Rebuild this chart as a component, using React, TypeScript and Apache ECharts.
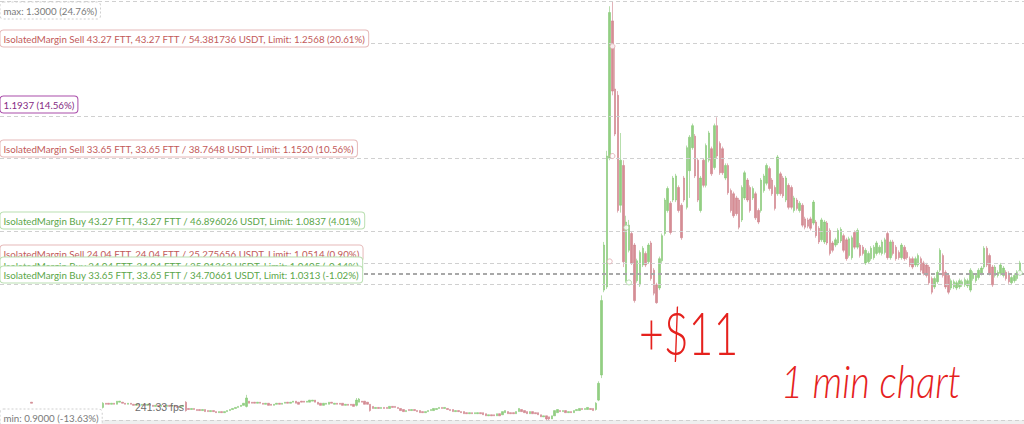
import React, { useEffect, useRef } from "react";
import * as echarts from "echarts";

type C = [number, number, number, number]; // open, close, low, high

const firstTick: C[] = [[0.917, 0.916, 0.916, 0.917]];

const preSpike: C[] = [
  [0.912, 0.916, 0.911, 0.917], [0.916, 0.915, 0.915, 0.916], [0.916, 0.915, 0.915, 0.916], [0.915, 0.916, 0.915, 0.916],
  [0.916, 0.915, 0.915, 0.916], [0.915, 0.918, 0.915, 0.918], [0.917, 0.918, 0.917, 0.918], [0.917, 0.916, 0.916, 0.917],
  [0.916, 0.915, 0.915, 0.916], [0.915, 0.916, 0.915, 0.916], [0.916, 0.915, 0.915, 0.916], [0.915, 0.914, 0.914, 0.915],
  [0.914, 0.915, 0.914, 0.915], [0.915, 0.914, 0.914, 0.915], [0.914, 0.915, 0.914, 0.915], [0.915, 0.914, 0.914, 0.915],
  [0.914, 0.915, 0.914, 0.915], [0.915, 0.914, 0.914, 0.915], [0.914, 0.913, 0.913, 0.914], [0.913, 0.914, 0.913, 0.914],
  [0.914, 0.913, 0.913, 0.914], [0.913, 0.914, 0.913, 0.914], [0.914, 0.913, 0.913, 0.914], [0.913, 0.914, 0.913, 0.914],
  [0.914, 0.913, 0.913, 0.914], [0.913, 0.914, 0.913, 0.914], [0.914, 0.913, 0.913, 0.914], [0.913, 0.912, 0.912, 0.913],
  [0.912, 0.913, 0.912, 0.913], [0.913, 0.914, 0.913, 0.914], [0.917, 0.909, 0.908, 0.918], [0.911, 0.910, 0.910, 0.911],
  [0.910, 0.911, 0.910, 0.911], [0.911, 0.910, 0.910, 0.911], [0.910, 0.909, 0.909, 0.910], [0.910, 0.909, 0.909, 0.910],
  [0.909, 0.910, 0.909, 0.910], [0.910, 0.908, 0.908, 0.910], [0.909, 0.908, 0.908, 0.909], [0.908, 0.909, 0.908, 0.909],
  [0.909, 0.908, 0.908, 0.909], [0.908, 0.907, 0.907, 0.908], [0.907, 0.908, 0.907, 0.908], [0.908, 0.907, 0.907, 0.908],
  [0.907, 0.908, 0.907, 0.908], [0.908, 0.909, 0.908, 0.909], [0.909, 0.910, 0.909, 0.910], [0.910, 0.911, 0.910, 0.911],
  [0.911, 0.912, 0.911, 0.912], [0.912, 0.913, 0.912, 0.913], [0.913, 0.914, 0.913, 0.914], [0.914, 0.916, 0.914, 0.916],
  [0.913, 0.921, 0.912, 0.924], [0.918, 0.916, 0.916, 0.918], [0.917, 0.916, 0.916, 0.917], [0.917, 0.916, 0.916, 0.917],
  [0.916, 0.917, 0.916, 0.917], [0.917, 0.916, 0.916, 0.917], [0.916, 0.915, 0.915, 0.916], [0.915, 0.916, 0.915, 0.916],
  [0.916, 0.914, 0.914, 0.916], [0.915, 0.914, 0.914, 0.915], [0.914, 0.915, 0.914, 0.915], [0.915, 0.916, 0.915, 0.916],
  [0.916, 0.915, 0.915, 0.916], [0.915, 0.916, 0.915, 0.916], [0.916, 0.917, 0.916, 0.917], [0.917, 0.916, 0.916, 0.917],
  [0.916, 0.917, 0.916, 0.917], [0.917, 0.918, 0.917, 0.918], [0.918, 0.916, 0.916, 0.918], [0.917, 0.915, 0.915, 0.917],
  [0.918, 0.917, 0.917, 0.918], [0.918, 0.917, 0.917, 0.918], [0.917, 0.918, 0.917, 0.918], [0.917, 0.919, 0.917, 0.919],
  [0.918, 0.919, 0.918, 0.919], [0.919, 0.917, 0.917, 0.919], [0.917, 0.915, 0.915, 0.917], [0.916, 0.914, 0.914, 0.916],
  [0.914, 0.916, 0.914, 0.916], [0.915, 0.916, 0.915, 0.916], [0.915, 0.917, 0.915, 0.917], [0.917, 0.916, 0.916, 0.917],
  [0.915, 0.916, 0.915, 0.916], [0.916, 0.915, 0.915, 0.916], [0.916, 0.915, 0.915, 0.916], [0.916, 0.914, 0.914, 0.916],
  [0.914, 0.915, 0.914, 0.915], [0.915, 0.914, 0.914, 0.915], [0.915, 0.914, 0.914, 0.915], [0.915, 0.913, 0.913, 0.915],
  [0.914, 0.919, 0.913, 0.921], [0.917, 0.920, 0.917, 0.921], [0.918, 0.917, 0.917, 0.918], [0.918, 0.915, 0.915, 0.918],
  [0.917, 0.915, 0.915, 0.917], [0.915, 0.909, 0.908, 0.915], [0.913, 0.911, 0.911, 0.913], [0.911, 0.912, 0.911, 0.912],
  [0.912, 0.911, 0.911, 0.912], [0.911, 0.912, 0.911, 0.912], [0.912, 0.911, 0.911, 0.912], [0.912, 0.911, 0.911, 0.912],
  [0.911, 0.913, 0.911, 0.913], [0.913, 0.912, 0.912, 0.913], [0.913, 0.912, 0.912, 0.913], [0.912, 0.911, 0.911, 0.912],
  [0.911, 0.909, 0.909, 0.911], [0.910, 0.908, 0.908, 0.910], [0.908, 0.909, 0.908, 0.909], [0.910, 0.909, 0.909, 0.910],
  [0.909, 0.910, 0.909, 0.910], [0.910, 0.909, 0.909, 0.910], [0.909, 0.908, 0.908, 0.909], [0.909, 0.907, 0.907, 0.909],
  [0.908, 0.907, 0.907, 0.908], [0.907, 0.908, 0.907, 0.908], [0.908, 0.909, 0.908, 0.909], [0.909, 0.910, 0.909, 0.910],
  [0.909, 0.911, 0.909, 0.911], [0.910, 0.911, 0.910, 0.911], [0.911, 0.912, 0.911, 0.912], [0.912, 0.911, 0.911, 0.912],
  [0.911, 0.912, 0.911, 0.912], [0.911, 0.910, 0.910, 0.911], [0.910, 0.909, 0.909, 0.910], [0.910, 0.908, 0.908, 0.910],
  [0.908, 0.909, 0.908, 0.909], [0.909, 0.908, 0.908, 0.909], [0.908, 0.907, 0.907, 0.908], [0.908, 0.906, 0.906, 0.908],
  [0.907, 0.906, 0.906, 0.907], [0.906, 0.907, 0.906, 0.907], [0.907, 0.906, 0.906, 0.907], [0.906, 0.907, 0.906, 0.907],
  [0.906, 0.907, 0.906, 0.907], [0.907, 0.906, 0.906, 0.907], [0.907, 0.905, 0.905, 0.907], [0.906, 0.904, 0.904, 0.906],
  [0.904, 0.905, 0.904, 0.905], [0.905, 0.904, 0.904, 0.905], [0.905, 0.904, 0.904, 0.905], [0.904, 0.906, 0.904, 0.906],
  [0.906, 0.904, 0.904, 0.906], [0.905, 0.908, 0.905, 0.908], [0.907, 0.909, 0.907, 0.909], [0.908, 0.906, 0.906, 0.908],
  [0.907, 0.906, 0.906, 0.907], [0.907, 0.906, 0.906, 0.907], [0.906, 0.908, 0.906, 0.908], [0.908, 0.911, 0.908, 0.911],
  [0.910, 0.908, 0.908, 0.910], [0.909, 0.907, 0.907, 0.909], [0.908, 0.906, 0.906, 0.908], [0.906, 0.908, 0.906, 0.908],
  [0.908, 0.906, 0.906, 0.908], [0.907, 0.906, 0.906, 0.907], [0.907, 0.905, 0.905, 0.907], [0.905, 0.903, 0.903, 0.905],
  [0.903, 0.904, 0.903, 0.904], [0.904, 0.901, 0.900, 0.904], [0.903, 0.901, 0.900, 0.903], [0.901, 0.904, 0.901, 0.904],
  [0.904, 0.909, 0.904, 0.909], [0.907, 0.910, 0.907, 0.910], [0.909, 0.908, 0.908, 0.909], [0.908, 0.909, 0.908, 0.909],
  [0.909, 0.907, 0.907, 0.909], [0.907, 0.908, 0.907, 0.908], [0.908, 0.907, 0.907, 0.908], [0.907, 0.909, 0.907, 0.909],
  [0.909, 0.910, 0.909, 0.910], [0.909, 0.911, 0.909, 0.911], [0.911, 0.910, 0.910, 0.911], [0.910, 0.911, 0.910, 0.911],
  [0.910, 0.912, 0.910, 0.912], [0.911, 0.910, 0.910, 0.911], [0.911, 0.909, 0.909, 0.911],
];

const spike: C[] = [
  [0.910, 0.916, 0.909, 0.917], [0.919, 0.935, 0.918, 0.937], [0.943, 1.014, 0.940, 1.019], [1.024, 1.067, 1.022, 1.070],
  [1.027, 1.152, 1.025, 1.157], [1.150, 1.289, 1.148, 1.295], [1.281, 1.214, 1.210, 1.300], [1.216, 1.173, 1.171, 1.257],
  [1.210, 1.100, 1.098, 1.214], [1.105, 1.148, 1.098, 1.174], [1.143, 1.051, 1.046, 1.148], [1.033, 1.089, 1.031, 1.095],
  [1.062, 1.086, 1.060, 1.091], [1.078, 1.050, 1.048, 1.080], [1.067, 1.014, 1.012, 1.069], [1.033, 1.052, 1.031, 1.054],
  [1.029, 1.060, 1.027, 1.062], [1.048, 1.064, 1.046, 1.066], [1.059, 1.048, 1.046, 1.061], [1.051, 1.067, 1.049, 1.069],
  [1.069, 1.035, 1.033, 1.071], [1.043, 1.021, 1.019, 1.045], [1.029, 1.012, 1.011, 1.031], [1.026, 1.054, 1.024, 1.056],
  [1.052, 1.076, 1.050, 1.078], [1.078, 1.110, 1.076, 1.112],
];

const afterSpike: C[] = [
  [1.100, 1.121, 1.098, 1.123], [1.107, 1.079, 1.077, 1.109], [1.110, 1.131, 1.108, 1.133], [1.110, 1.133, 1.108, 1.135],
  [1.122, 1.100, 1.098, 1.124], [1.105, 1.074, 1.072, 1.107], [1.131, 1.110, 1.108, 1.133], [1.103, 1.160, 1.101, 1.162],
  [1.138, 1.170, 1.112, 1.172], [1.160, 1.181, 1.158, 1.183], [1.171, 1.133, 1.131, 1.173], [1.148, 1.110, 1.108, 1.150],
  [1.100, 1.131, 1.098, 1.133], [1.148, 1.124, 1.122, 1.150], [1.124, 1.162, 1.122, 1.164], [1.148, 1.174, 1.146, 1.176],
  [1.159, 1.135, 1.133, 1.161], [1.141, 1.181, 1.139, 1.183], [1.181, 1.152, 1.150, 1.189], [1.164, 1.136, 1.134, 1.166],
  [1.159, 1.136, 1.134, 1.161], [1.131, 1.143, 1.129, 1.145], [1.143, 1.117, 1.115, 1.145], [1.119, 1.100, 1.098, 1.121],
  [1.116, 1.095, 1.093, 1.118], [1.112, 1.097, 1.095, 1.114], [1.110, 1.084, 1.082, 1.112], [1.091, 1.122, 1.089, 1.124],
  [1.112, 1.136, 1.110, 1.138], [1.129, 1.110, 1.108, 1.131], [1.122, 1.100, 1.098, 1.124], [1.112, 1.121, 1.110, 1.123],
  [1.116, 1.093, 1.091, 1.118], [1.100, 1.089, 1.087, 1.102], [1.100, 1.129, 1.098, 1.131], [1.119, 1.133, 1.117, 1.135],
  [1.126, 1.143, 1.124, 1.145], [1.140, 1.121, 1.119, 1.142], [1.129, 1.116, 1.114, 1.131], [1.122, 1.102, 1.100, 1.124],
  [1.116, 1.151, 1.114, 1.153], [1.135, 1.116, 1.114, 1.137], [1.131, 1.114, 1.112, 1.133], [1.110, 1.131, 1.108, 1.133],
  [1.124, 1.103, 1.101, 1.126], [1.122, 1.103, 1.101, 1.124], [1.100, 1.112, 1.098, 1.114], [1.110, 1.102, 1.100, 1.112],
  [1.100, 1.107, 1.098, 1.109], [1.105, 1.086, 1.084, 1.107], [1.092, 1.084, 1.082, 1.094], [1.091, 1.085, 1.083, 1.093],
  [1.092, 1.083, 1.081, 1.094], [1.088, 1.108, 1.086, 1.110], [1.089, 1.076, 1.074, 1.091], [1.083, 1.070, 1.068, 1.085],
  [1.072, 1.091, 1.070, 1.093], [1.070, 1.089, 1.068, 1.091], [1.088, 1.069, 1.067, 1.090], [1.081, 1.059, 1.057, 1.083],
  [1.069, 1.062, 1.060, 1.071], [1.067, 1.072, 1.065, 1.074], [1.069, 1.081, 1.067, 1.083], [1.071, 1.082, 1.069, 1.084],
  [1.076, 1.062, 1.060, 1.078], [1.072, 1.054, 1.052, 1.074], [1.057, 1.073, 1.055, 1.075], [1.055, 1.074, 1.053, 1.076],
  [1.079, 1.065, 1.063, 1.081], [1.065, 1.081, 1.063, 1.083], [1.067, 1.057, 1.055, 1.069], [1.065, 1.059, 1.057, 1.067],
  [1.050, 1.062, 1.048, 1.064], [1.051, 1.059, 1.049, 1.061], [1.054, 1.064, 1.052, 1.066], [1.055, 1.065, 1.053, 1.067],
  [1.059, 1.069, 1.057, 1.071], [1.060, 1.065, 1.058, 1.067], [1.059, 1.070, 1.057, 1.072], [1.060, 1.072, 1.058, 1.074],
  [1.078, 1.055, 1.053, 1.080], [1.055, 1.070, 1.053, 1.072], [1.070, 1.059, 1.057, 1.072], [1.065, 1.054, 1.052, 1.067],
  [1.060, 1.055, 1.053, 1.062], [1.055, 1.067, 1.053, 1.069], [1.065, 1.054, 1.052, 1.067], [1.060, 1.055, 1.053, 1.062],
  [1.054, 1.048, 1.046, 1.056], [1.054, 1.046, 1.044, 1.056], [1.048, 1.054, 1.046, 1.056], [1.048, 1.057, 1.046, 1.059],
  [1.054, 1.043, 1.041, 1.056], [1.050, 1.040, 1.038, 1.052], [1.048, 1.038, 1.036, 1.050], [1.046, 1.031, 1.029, 1.048],
  [1.035, 1.022, 1.020, 1.037], [1.027, 1.035, 1.025, 1.037], [1.032, 1.041, 1.030, 1.043], [1.043, 1.062, 1.041, 1.064],
  [1.057, 1.038, 1.036, 1.059], [1.041, 1.027, 1.025, 1.043], [1.038, 1.022, 1.020, 1.040], [1.026, 1.033, 1.024, 1.035],
  [1.027, 1.032, 1.025, 1.034], [1.026, 1.031, 1.024, 1.033], [1.027, 1.033, 1.025, 1.035], [1.029, 1.032, 1.027, 1.034],
  [1.029, 1.034, 1.027, 1.036], [1.028, 1.033, 1.026, 1.035], [1.024, 1.043, 1.022, 1.045], [1.035, 1.040, 1.033, 1.042],
  [1.033, 1.038, 1.031, 1.040], [1.036, 1.043, 1.034, 1.045], [1.040, 1.045, 1.038, 1.047], [1.046, 1.064, 1.044, 1.066],
  [1.064, 1.048, 1.046, 1.066], [1.057, 1.040, 1.038, 1.059], [1.046, 1.029, 1.027, 1.048], [1.038, 1.046, 1.036, 1.048],
  [1.038, 1.041, 1.036, 1.043], [1.040, 1.048, 1.038, 1.050], [1.038, 1.045, 1.036, 1.047], [1.041, 1.035, 1.033, 1.043],
  [1.040, 1.032, 1.030, 1.042], [1.031, 1.036, 1.029, 1.038], [1.033, 1.038, 1.031, 1.040], [1.035, 1.041, 1.033, 1.043],
  [1.041, 1.050, 1.039, 1.052],
];

// empty minute slots (no trades) around the data
const leadEmpty = 11;
const gapEmpty = 25;
const tailEmpty = 1;

const levelPrices = [1.3, 1.2568, 1.1937, 1.152, 1.0837, 1.0514, 1.0405, 1.0313, 0.9];
const levelKinds = ["max", "sell", "alert", "sell", "buy", "sell", "buy", "buy", "min"];
const levelTexts = [
  "max: 1.3000 (24.76%)",
  "IsolatedMargin Sell 43.27 FTT, 43.27 FTT / 54.381736 USDT, Limit: 1.2568 (20.61%)",
  "1.1937 (14.56%)",
  "IsolatedMargin Sell 33.65 FTT, 33.65 FTT / 38.7648 USDT, Limit: 1.1520 (10.56%)",
  "IsolatedMargin Buy 43.27 FTT, 43.27 FTT / 46.896026 USDT, Limit: 1.0837 (4.01%)",
  "IsolatedMargin Sell 24.04 FTT, 24.04 FTT / 25.275656 USDT, Limit: 1.0514 (0.90%)",
  "IsolatedMargin Buy 24.04 FTT, 24.04 FTT / 25.01362 USDT, Limit: 1.0405 (-0.14%)",
  "IsolatedMargin Buy 33.65 FTT, 33.65 FTT / 34.70661 USDT, Limit: 1.0313 (-1.02%)",
  "min: 0.9000 (-13.63%)",
];

const fillSlots = [222, 222, 221, 227, 228, 370];
const fillPrices = [1.2568, 1.152, 1.0514, 1.0837, 1.0313, 1.0405];
const fillKinds = ["sell", "sell", "sell", "buy", "buy", "buy"];

const W = 1024;
const H = 424;

const kindStyle: Record<string, { fill: string; border: string; dashed?: boolean }> = {
  max: { fill: "#7a7a7a", border: "#cfcfcf", dashed: true },
  min: { fill: "#7a7a7a", border: "#cfcfcf", dashed: true },
  sell: { fill: "#c25a5a", border: "#e6b9b9" },
  buy: { fill: "#5aa649", border: "#b9dfb1" },
  alert: { fill: "#842a84", border: "#a94ca9" },
};

export default function App() {
  const ref = useRef<HTMLDivElement>(null);
  useEffect(() => {
    const el = ref.current!;
    const chart = echarts.init(el, null, { renderer: "svg", width: W, height: H });
    const empty = (n: number) => Array.from({ length: n }, () => ["-", "-", "-", "-"]);
    const candles: any[] = [
      ...empty(leadEmpty),
      ...firstTick,
      ...empty(gapEmpty),
      ...preSpike,
      ...spike,
      ...afterSpike,
      ...empty(tailEmpty),
    ];
    const categories = candles.map((_, k) => {
      const m = 4 * 60 + 37 + k;
      return `${String(Math.floor(m / 60) % 24).padStart(2, "0")}:${String(m % 60).padStart(2, "0")}`;
    });

    chart.setOption({
      animation: false,
      grid: { left: 0, right: 0, top: 1, bottom: 4 },
      xAxis: { type: "category", data: categories, show: false, boundaryGap: true },
      yAxis: { type: "value", min: 0.9, max: 1.3, show: false, splitLine: { show: false } },
      series: [
        {
          type: "candlestick",
          data: candles,
          barWidth: 2,
          z: 3,
          itemStyle: {
            color: "#92cf82",
            color0: "#d58d94",
            borderColor: "#85c873",
            borderColor0: "#cf808a",
            borderWidth: 0.6,
          },
          markLine: {
            silent: true,
            symbol: ["none", "none"],
            label: { show: false },
            data: levelPrices.map((p) => ({
              yAxis: p,
              lineStyle: {
                color: p === 1.0405 ? "#a8a8a8" : "#d0d0d0",
                width: p === 1.0405 ? 2 : 1,
                type: [4, 3],
              },
            })),
          },
        },
        {
          type: "scatter",
          z: 6,
          symbol: "circle",
          symbolSize: 5,
          data: fillSlots.map((s, k) => ({
            value: [s, fillPrices[k]],
            itemStyle: {
              color: "#ffffff",
              borderColor: fillKinds[k] === "sell" ? "#e0a8ae" : "#a8d89c",
              borderWidth: 1,
            },
          })),
        },
      ],
    });

    const fontFamily = "Lato";
    const longest = levelTexts[1];
    const ctx = document.createElement("canvas").getContext("2d")!;
    ctx.font = `11px ${fontFamily}`;
    const w11 = ctx.measureText(longest).width;
    const fs = Math.min(11.5, (11 * 362) / w11);
    const font = `${fs.toFixed(2)}px ${fontFamily}`;

    const labels = levelPrices.map((p, k) => {
      const y = chart.convertToPixel({ yAxisIndex: 0 }, p) as number;
      const kind = levelKinds[k];
      const st = kindStyle[kind];
      let top: number;
      if (kind === "max") top = y + 1;
      else if (kind === "min") top = y - 11;
      else top = y + 1 - 17;
      return {
        type: "text",
        x: 0.5,
        y: Math.round(top) + 0.5,
        z: 100 + k,
        style: {
          text: levelTexts[k],
          font,
          fill: st.fill,
          verticalAlign: "top",
          align: "left",
          lineHeight: 14,
          backgroundColor: "#ffffff",
          borderColor: st.border,
          borderWidth: 1,
          borderRadius: 3,
          borderDash: st.dashed ? [2, 2] : null,
          padding: [1, 3, 1, 3],
        },
      };
    });

    chart.setOption({
      graphic: [
        { type: "rect", x: 0, y: 420, z: 1, shape: { width: W, height: 4 }, style: { fill: "#efefef" } },
        {
          type: "text",
          x: 135,
          y: 407,
          z: 50,
          style: { text: "241.33 fps", font: "10.5px 'Liberation Sans'", fill: "#6e6e6e", verticalAlign: "middle" },
        },
        ...labels,
        {
          type: "text",
          x: 639,
          y: 302,
          z: 120,
          scaleX: 0.93,
          scaleY: 1.3,
          style: { text: "+$11", font: "300 46px Lato", fill: "#e5211d", verticalAlign: "top" },
        },
        {
          type: "text",
          x: 781,
          y: 358,
          z: 120,
          scaleY: 1.2,
          style: { text: "1 min chart", font: "italic 300 38px Lato", fill: "#e5211d", verticalAlign: "top" },
        },
      ],
    });

    return () => chart.dispose();
  }, []);

  return (
    <div
      ref={ref}
      style={{ position: "fixed", left: 0, top: 0, width: W, height: H, background: "#ffffff" }}
    />
  );
}
